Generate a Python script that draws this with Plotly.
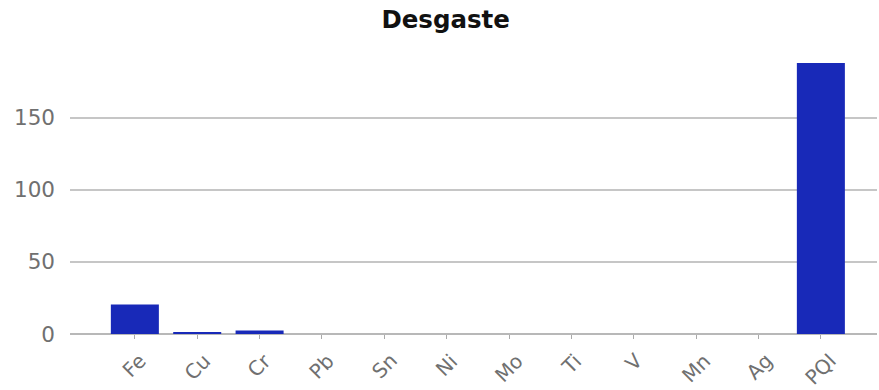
import plotly.graph_objects as go

categories = ["Fe", "Cu", "Cr", "Pb", "Sn", "Ni", "Mo", "Ti", "V", "Mn", "Ag", "PQI"]
values = [20.5, 1.0, 2.5, 0, 0, 0, 0, 0, 0, 0, 0, 188]
y_ticks = [0, 50, 100, 150]

xs = list(range(len(categories)))
fig = go.Figure(go.Bar(
    x=xs, y=values, width=0.77,
    marker=dict(color="#1829B8", line=dict(width=0)),
))

# category labels, centred under each tick and rotated
for i, name in zip(xs, categories):
    fig.add_annotation(
        x=i, y=0, xref="x", yref="y", text=name, showarrow=False,
        textangle=-45, xanchor="center", yanchor="top", yshift=-12,
        font=dict(family="DejaVu Sans", size=20, color="#707070"),
    )

fig.update_layout(
    width=879, height=390,
    margin=dict(l=70, r=2, t=60, b=56, autoexpand=False),
    plot_bgcolor="white", paper_bgcolor="white",
    showlegend=False,
    font=dict(family="DejaVu Sans", color="#707070", size=19),
    title=dict(text="<b>Desgaste</b>", x=0.507, xanchor="center", y=0.95, yanchor="middle",
               font=dict(family="DejaVu Sans", size=24.5, color="#111111")),
)
fig.update_xaxes(
    tickmode="array", tickvals=xs, showticklabels=False,
    range=[-1.04, 11.9], ticks="outside", ticklen=4, tickcolor="#aaaaaa",
    showgrid=False, showline=False, zeroline=False, automargin=False,
)
fig.update_yaxes(
    tickmode="array", tickvals=y_ticks, range=[0, 190],
    showgrid=True, gridcolor="#c6c6c6", gridwidth=2,
    zeroline=True, zerolinecolor="#b8b8b8", zerolinewidth=2,
    showline=False, ticks="", ticklabelstandoff=14, automargin=False,
    tickfont=dict(size=21.5, color="#707070"),
)
fig.write_html("out.html", config={"displayModeBar": False},
               post_script="document.body.style.margin='0';document.body.style.overflow='hidden';")
